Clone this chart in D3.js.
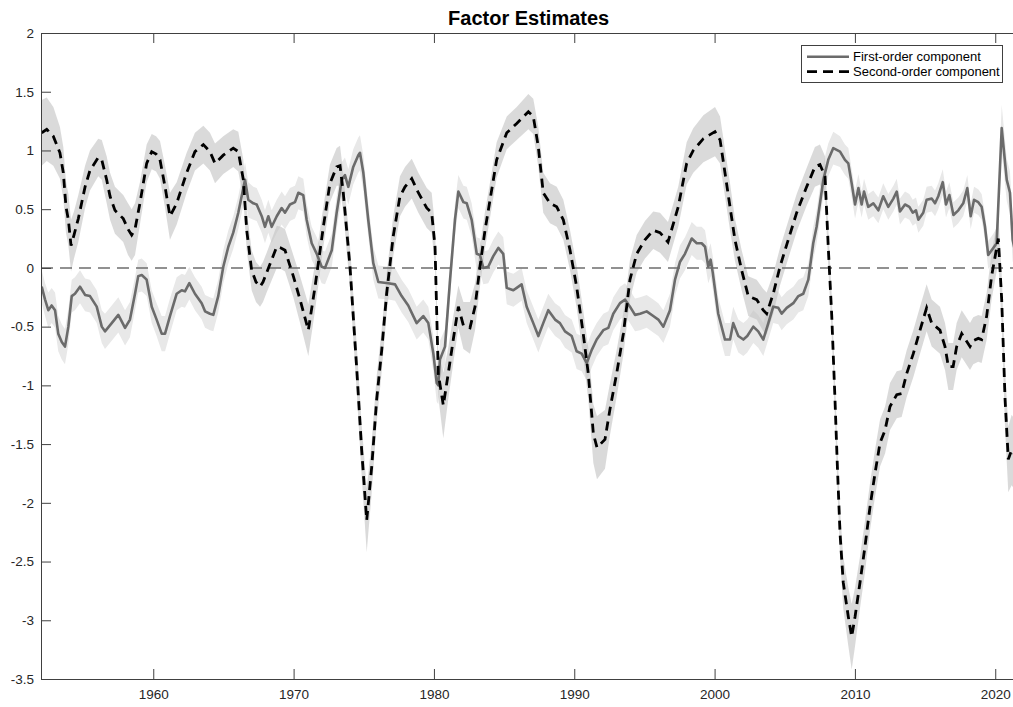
<!DOCTYPE html>
<html>
<head>
<meta charset="utf-8">
<script src="https://cdn.jsdelivr.net/npm/d3@7"></script>
<style>
  body { margin: 0; background: #fff; }
  svg { display: block; font-family: "Liberation Sans", Arial, Helvetica, sans-serif; }
</style>
</head>
<body>
<div id="chart"></div>
<script>
// first-order component (solid)
var firstYears = [1952.05,1952.29,1952.52,1952.76,1953.0,1953.23,1953.48,1953.71,1953.95,1954.19,
  1954.42,1954.78,1955.14,1955.49,1955.97,1956.33,1956.56,1957.04,1957.51,1957.99,
  1958.34,1958.7,1958.93,1959.18,1959.53,1959.89,1960.24,1960.6,1960.84,1961.19,
  1961.67,1962.03,1962.26,1962.57,1962.97,1963.45,1963.69,1964.04,1964.28,1964.63,
  1964.99,1965.35,1965.7,1966.06,1966.54,1966.77,1967.13,1967.37,1967.73,1967.96,
  1968.2,1968.44,1968.8,1969.15,1969.39,1969.74,1970.1,1970.34,1970.69,1970.93,
  1971.29,1971.65,1972.0,1972.24,1972.72,1973.07,1973.43,1973.66,1973.9,1974.25,
  1974.61,1974.73,1974.97,1975.32,1975.68,1976.04,1976.75,1977.23,1977.7,1978.17,
  1978.53,1978.77,1979.24,1979.6,1979.96,1980.2,1980.31,1980.43,1980.79,1981.15,
  1981.5,1981.74,1982.1,1982.34,1982.69,1983.05,1983.28,1983.52,1983.87,1984.23,
  1984.59,1984.94,1985.19,1985.66,1985.9,1986.25,1986.61,1987.08,1987.44,1987.79,
  1988.15,1988.63,1988.98,1989.34,1989.82,1990.17,1990.53,1990.89,1991.24,1991.6,
  1992.07,1992.43,1992.78,1993.26,1993.62,1993.97,1994.33,1994.69,1995.16,1995.63,
  1995.99,1996.35,1996.82,1997.18,1997.53,1997.89,1998.37,1998.73,1999.08,1999.32,
  1999.55,1999.72,1999.87,2000.26,2000.74,2001.1,2001.33,2001.69,2002.05,2002.33,
  2002.76,2003.11,2003.47,2003.83,2004.18,2004.54,2004.78,2005.14,2005.61,2005.97,
  2006.32,2006.68,2007.03,2007.27,2007.75,2008.1,2008.46,2008.94,2009.29,2009.53,
  2009.77,2010.01,2010.25,2010.48,2010.65,2010.95,2011.31,2011.67,2012.02,2012.38,
  2012.74,2012.98,2013.21,2013.57,2013.88,2014.12,2014.35,2014.52,2014.87,2015.11,
  2015.47,2015.71,2015.94,2016.26,2016.49,2016.73,2017.02,2017.37,2017.72,2018.01,
  2018.25,2018.49,2018.79,2019.03,2019.27,2019.5,2019.86,2020.1,2020.46,2020.82,
  2021.05,2021.24,2021.48];
var firstValues = [-0.16,-0.27,-0.36,-0.32,-0.36,-0.56,-0.63,-0.67,-0.50,-0.24,
  -0.22,-0.16,-0.23,-0.24,-0.33,-0.50,-0.54,-0.47,-0.40,-0.51,
  -0.44,-0.22,-0.07,-0.06,-0.10,-0.33,-0.44,-0.56,-0.56,-0.41,
  -0.22,-0.19,-0.20,-0.13,-0.22,-0.30,-0.37,-0.39,-0.40,-0.24,
  0.01,0.18,0.30,0.47,0.75,0.58,0.55,0.54,0.44,0.35,
  0.44,0.35,0.44,0.51,0.47,0.54,0.56,0.64,0.62,0.41,
  0.21,0.12,0.01,0.00,0.15,0.47,0.75,0.79,0.69,0.86,
  0.96,0.98,0.81,0.41,0.04,-0.12,-0.13,-0.14,-0.24,-0.32,
  -0.41,-0.47,-0.41,-0.47,-0.73,-0.98,-1.00,-0.78,-0.67,-0.10,
  0.41,0.65,0.56,0.55,0.41,0.12,0.11,0.00,0.01,0.10,
  0.17,0.12,-0.17,-0.19,-0.17,-0.14,-0.33,-0.47,-0.58,-0.47,
  -0.36,-0.44,-0.47,-0.54,-0.58,-0.71,-0.73,-0.81,-0.70,-0.61,
  -0.53,-0.51,-0.39,-0.30,-0.27,-0.33,-0.40,-0.39,-0.37,-0.41,
  -0.44,-0.50,-0.36,-0.10,0.05,0.12,0.25,0.21,0.21,0.18,
  0.01,0.07,-0.04,-0.39,-0.61,-0.61,-0.47,-0.58,-0.61,-0.58,
  -0.50,-0.54,-0.61,-0.47,-0.33,-0.34,-0.39,-0.34,-0.30,-0.24,
  -0.22,-0.10,0.21,0.35,0.75,0.92,1.02,0.99,0.92,0.89,
  0.72,0.54,0.68,0.54,0.65,0.52,0.55,0.49,0.61,0.52,
  0.59,0.65,0.48,0.54,0.52,0.47,0.49,0.41,0.47,0.58,
  0.59,0.55,0.61,0.73,0.54,0.62,0.45,0.49,0.55,0.68,
  0.44,0.58,0.56,0.52,0.35,0.11,0.17,0.21,1.19,0.75,
  0.64,0.24,0.10];
// half width of the shaded band round the first-order component
var firstBand = [.14,.14,.15,.15,.15,.15,.15,.15,.15,.14,
  .14,.14,.14,.14,.14,.14,.15,.15,.15,.15,
  .15,.14,.14,.14,.14,.14,.14,.15,.15,.15,
  .14,.14,.14,.14,.14,.14,.14,.14,.14,.14,
  .14,.14,.14,.14,.15,.15,.14,.14,.14,.14,
  .14,.14,.14,.14,.14,.14,.14,.14,.14,.14,
  .14,.14,.14,.14,.14,.14,.15,.15,.15,.15,
  .15,.15,.15,.14,.14,.14,.14,.14,.14,.14,
  .14,.14,.14,.14,.15,.16,.16,.16,.15,.14,
  .14,.14,.14,.14,.14,.14,.14,.14,.14,.14,
  .14,.14,.14,.14,.14,.14,.14,.14,.14,.14,
  .14,.14,.14,.14,.14,.15,.15,.15,.15,.14,
  .14,.14,.14,.14,.14,.14,.14,.14,.14,.14,
  .14,.14,.14,.14,.14,.14,.14,.14,.14,.14,
  .14,.14,.14,.14,.14,.14,.14,.14,.14,.14,
  .14,.14,.14,.14,.14,.14,.14,.14,.14,.14,
  .14,.14,.14,.14,.14,.14,.14,.13,.13,.13,
  .12,.12,.12,.11,.11,.11,.11,.11,.11,.11,
  .11,.11,.11,.11,.11,.11,.11,.11,.11,.11,
  .11,.11,.11,.11,.11,.11,.11,.11,.11,.11,
  .11,.11,.11,.11,.11,.12,.12,.13,.20,.18,
  .18,.18,.18];

// second-order component (dashed)
var secondYears = [1952.05,1952.41,1952.88,1953.35,1953.59,1953.78,1953.95,1954.14,1954.35,1954.66,
  1955.14,1955.49,1956.08,1956.33,1956.68,1956.92,1957.27,1957.86,1958.2,1958.46,
  1958.7,1959.05,1959.53,1959.89,1960.2,1960.48,1960.84,1961.19,1961.67,1962.38,
  1962.97,1963.57,1964.04,1964.4,1964.99,1965.7,1966.06,1966.42,1966.66,1967.01,
  1967.32,1967.61,1967.82,1968.08,1968.8,1969.1,1969.39,1969.98,1970.46,1971.05,
  1971.53,1972.12,1972.59,1973.07,1973.31,1973.54,1974.02,1974.5,1974.85,1975.21,
  1975.57,1975.92,1976.28,1976.63,1977.1,1977.58,1977.94,1978.42,1978.89,1979.49,
  1979.84,1980.08,1980.2,1980.31,1980.67,1981.02,1981.38,1981.74,1982.1,1982.57,
  1982.93,1983.28,1983.64,1984.0,1984.47,1985.19,1985.9,1986.73,1987.08,1987.44,
  1987.79,1988.27,1988.75,1989.22,1989.7,1990.17,1990.64,1991.0,1991.36,1991.62,
  1992.19,1992.55,1993.02,1993.5,1993.97,1994.45,1995.04,1995.63,1996.11,1996.68,
  1997.41,1998.01,1998.48,1999.2,2000.03,2000.39,2000.74,2001.1,2001.45,2001.93,
  2002.4,2003.0,2003.47,2003.71,2004.18,2004.66,2005.25,2005.85,2006.56,2007.15,
  2007.51,2007.87,2008.1,2008.35,2008.58,2008.75,2008.94,2009.17,2009.53,2009.77,
  2010.01,2010.36,2010.72,2011.08,2011.43,2011.79,2012.15,2012.5,2012.98,2013.33,
  2013.69,2014.16,2014.64,2015.11,2015.47,2016.06,2016.42,2016.66,2017.0,2017.25,
  2017.61,2018.2,2018.43,2018.79,2019.03,2019.39,2019.74,2020.22,2020.46,2020.7,
  2020.93,2021.17,2021.45];
var secondValues = [1.15,1.18,1.12,0.98,0.81,0.52,0.41,0.19,0.28,0.42,
  0.69,0.83,0.94,0.92,0.75,0.61,0.49,0.42,0.33,0.28,
  0.33,0.55,0.89,0.99,0.97,0.92,0.69,0.44,0.55,0.81,
  0.99,1.05,0.99,0.89,0.96,1.02,0.99,0.75,0.32,-0.02,
  -0.12,-0.16,-0.12,-0.04,0.18,0.17,0.15,-0.07,-0.27,-0.53,
  -0.16,0.35,0.72,0.86,0.87,0.64,0.01,-0.86,-1.55,-2.15,
  -1.69,-1.12,-0.70,-0.22,0.27,0.61,0.69,0.76,0.64,0.51,
  0.47,0.18,-0.39,-0.90,-1.17,-0.90,-0.61,-0.33,-0.49,-0.51,
  -0.33,0.01,0.32,0.58,0.92,1.15,1.23,1.33,1.29,1.03,
  0.64,0.55,0.52,0.41,0.15,-0.16,-0.56,-0.90,-1.41,-1.53,
  -1.46,-1.20,-0.90,-0.56,-0.10,0.12,0.24,0.32,0.30,0.22,
  0.52,0.89,1.00,1.10,1.16,1.09,0.81,0.52,0.24,-0.02,
  -0.24,-0.27,-0.36,-0.39,-0.22,0.01,0.24,0.47,0.69,0.86,
  0.88,0.78,0.18,-0.41,-1.12,-1.69,-2.26,-2.68,-2.97,-3.14,
  -2.97,-2.68,-2.37,-2.03,-1.75,-1.49,-1.38,-1.18,-1.08,-1.07,
  -0.90,-0.73,-0.53,-0.34,-0.47,-0.53,-0.67,-0.84,-0.84,-0.67,
  -0.56,-0.67,-0.62,-0.60,-0.61,-0.41,-0.07,0.25,-0.27,-1.12,
  -1.63,-1.55,-1.60];
var secondBand = [.28,.27,.25,.22,.22,.22,.22,.22,.2,.2,
  .18,.17,.16,.17,.2,.2,.2,.2,.22,.22,
  .22,.18,.16,.15,.15,.16,.18,.2,.18,.17,
  .16,.16,.16,.17,.16,.16,.17,.17,.17,.17,
  .17,.17,.17,.17,.18,.18,.18,.18,.2,.22,
  .2,.17,.16,.16,.17,.17,.18,.2,.22,.27,
  .22,.2,.18,.17,.17,.17,.17,.17,.17,.17,
  .17,.17,.18,.2,.28,.22,.2,.18,.2,.22,
  .2,.17,.16,.15,.15,.14,.14,.15,.15,.17,
  .17,.17,.17,.17,.17,.18,.2,.22,.25,.27,
  .25,.22,.2,.18,.17,.16,.16,.16,.17,.17,
  .17,.18,.19,.2,.21,.2,.2,.2,.18,.17,
  .17,.17,.18,.18,.17,.16,.16,.16,.16,.17,
  .17,.17,.17,.17,.17,.18,.2,.22,.25,.28,
  .25,.22,.22,.2,.2,.2,.2,.2,.2,.2,
  .2,.2,.2,.2,.2,.2,.2,.2,.2,.2,
  .2,.2,.2,.2,.2,.2,.2,.2,.22,.25,
  .28,.3,.3];

var yTicks = [-3.5, -3, -2.5, -2, -1.5, -1, -0.5, 0, 0.5, 1, 1.5, 2];
var xTicks = [1960, 1970, 1980, 1990, 2000, 2010, 2020];
var legendLabels = ["First-order component", "Second-order component"];

var W = 1013, H = 707;
var plotLeft = 41, plotTop = 33, plotBottom = 679;

var x = d3.scaleLinear().domain([1952, 2021.5]).range([plotLeft, plotLeft + 69.5 * 14.033]);
var y = d3.scaleLinear().domain([-3.5, 2]).range([plotBottom, plotTop]);
var plotRight = x.range()[1];

var svg = d3.select("#chart").append("svg")
  .attr("width", W)
  .attr("height", H);

svg.append("clipPath").attr("id", "plotclip")
  .append("rect")
  .attr("x", plotLeft).attr("y", plotTop)
  .attr("width", plotRight - plotLeft).attr("height", plotBottom - plotTop);

var plot = svg.append("g").attr("clip-path", "url(#plotclip)");

function bandArea(years, band) {
  return d3.area()
    .x(function (d, i) { return x(years[i]); })
    .y0(function (d, i) { return y(d - band[i]); })
    .y1(function (d, i) { return y(d + band[i]); });
}
function valueLine(years) {
  return d3.line()
    .x(function (d, i) { return x(years[i]); })
    .y(function (d) { return y(d); });
}

// shaded bands
plot.append("path")
  .attr("d", bandArea(firstYears, firstBand)(firstValues))
  .attr("fill", "#e8e8e8");
plot.append("path")
  .attr("d", bandArea(secondYears, secondBand)(secondValues))
  .attr("fill", "#c4c4c4")
  .attr("fill-opacity", 0.62);

// zero line
plot.append("line")
  .attr("x1", plotLeft).attr("x2", plotRight)
  .attr("y1", y(0)).attr("y2", y(0))
  .attr("stroke", "#6e6e6e")
  .attr("stroke-width", 1.5)
  .attr("stroke-dasharray", "12,7");

// series
plot.append("path")
  .attr("d", valueLine(firstYears)(firstValues))
  .attr("fill", "none")
  .attr("stroke", "#6b6b6b")
  .attr("stroke-width", 2.6)
  .attr("stroke-linejoin", "round");
plot.append("path")
  .attr("d", valueLine(secondYears)(secondValues))
  .attr("fill", "none")
  .attr("stroke", "#000")
  .attr("stroke-width", 2.8)
  .attr("stroke-dasharray", "9,6");

// axes
var axisColor = "#404040";
var gy = svg.append("g")
  .attr("transform", "translate(" + plotLeft + ",0)")
  .call(d3.axisLeft(y).tickValues(yTicks).tickFormat(function (d) { return String(d); })
    .tickSizeInner(-10).tickSizeOuter(0).tickPadding(7));
var gx = svg.append("g")
  .attr("transform", "translate(0," + plotBottom + ")")
  .call(d3.axisBottom(x).tickValues(xTicks).tickFormat(d3.format("d"))
    .tickSizeInner(-10).tickSizeOuter(0).tickPadding(10));
var gt = svg.append("g")
  .attr("transform", "translate(0," + plotTop + ")")
  .call(d3.axisTop(x).tickValues(xTicks).tickFormat("")
    .tickSizeInner(-10).tickSizeOuter(0));

[gx, gy, gt].forEach(function (g) {
  g.select(".domain").attr("stroke", axisColor);
  g.selectAll(".tick line").attr("stroke", axisColor);
  g.selectAll("text")
    .attr("fill", "#262626")
    .style("font-size", "13.5px")
    .style("font-family", "'Liberation Sans', Arial, sans-serif");
});

// title
svg.append("text")
  .attr("x", (plotLeft + plotRight) / 2)
  .attr("y", 25)
  .attr("text-anchor", "middle")
  .style("font-size", "20px")
  .style("font-weight", "bold")
  .attr("fill", "#000")
  .text("Factor Estimates");

// legend
var lg = svg.append("g");
lg.append("rect")
  .attr("x", 801.5).attr("y", 45.5)
  .attr("width", 201).attr("height", 37)
  .attr("fill", "#fff")
  .attr("stroke", axisColor);
var legendStyles = [
  { stroke: "#6b6b6b", width: 2.6, dash: null },
  { stroke: "#000", width: 2.8, dash: "10,6" }
];
legendLabels.forEach(function (lab, i) {
  var ly = 56.7 + i * 15;
  var ln = lg.append("line")
    .attr("x1", 807).attr("x2", 849)
    .attr("y1", ly).attr("y2", ly)
    .attr("stroke", legendStyles[i].stroke)
    .attr("stroke-width", legendStyles[i].width);
  if (legendStyles[i].dash) ln.attr("stroke-dasharray", legendStyles[i].dash);
  lg.append("text")
    .attr("x", 853).attr("y", ly)
    .attr("dy", "0.35em")
    .style("font-size", "13px")
    .attr("fill", "#000")
    .text(lab);
});
</script>
</body>
</html>
